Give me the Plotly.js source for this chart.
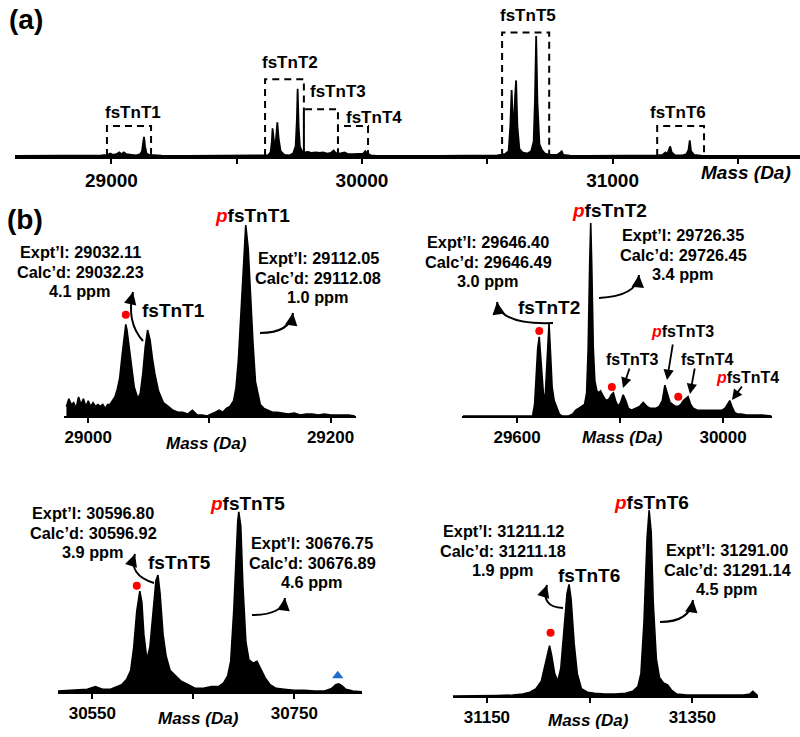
<!DOCTYPE html>
<html><head><meta charset="utf-8">
<script src="https://cdn.plot.ly/plotly-3.0.1.min.js"></script>
<style>html,body{margin:0;padding:0;background:#fff}#c{width:800px;height:737px}</style>
</head><body><div id="c"></div>
<script>
// ---------- data (mass in Da, relative intensity in %) ----------
// (a) full spectrum
const aMass = [28615,28900,28960,28985,28995,29005,29020,29031,29040,29049,
  29060,29080,29100,29115,29122,29127,29130,29134,29140,29150,
  29170,29200,29300,29600,29625,29635,29640,29643,29647,29652,
  29657,29662,29667,29675,29690,29710,29725,29735,29740,29743,
  29747,29752,29760,29770,29785,29800,29815,29830,29845,29860,
  29875,29887,29895,29910,29930,29945,29965,29985,30005,30013,
  30022,30035,30060,30300,30500,30540,30570,30585,30592,30597,
  30602,30607,30611,30615,30620,30628,30640,30660,30675,30685,
  30690,30695,30700,30708,30718,30730,30750,30780,30792,30797,
  30803,30830,30900,31100,31180,31200,31211,31218,31225,31230,
  31236,31250,31280,31295,31303,31308,31313,31325,31360,31500,31748];
const aInt = [0,0,0.5,1,2,1,1.5,3,1.5,3,
  1.5,1,0.5,1.5,4,12,16,8,2,1,
  0.5,0.3,0,0,0.5,3,12,23,12,6,
  15,28,15,4,1,0.5,2,8,30,56,
  25,8,4,3,3.5,2.5,3,2.5,3,2,
  2.5,4.5,2.5,2,3,1.5,1.5,2,2,4,
  2,0.5,0,0,0,0.5,1.5,4,25,55,
  30,30,50,63,25,6,3,2,4,12,
  45,100,45,10,5,2,1,1,3,4,
  1,0.3,0,0,0.5,1,3,1.5,5,8,
  3,0.5,0.5,1.5,5,13,4,1,0,0,0];

// (b) fsTnT1 region
const b1Mass = [28982,28984,28986,28988,28990,28992,28994,28996,28998,29000,
  29002,29004,29006,29008,29010,29012,29014,29016,29018,29020,
  29022,29024,29026,29028,29030,29031,29032,29034,29036,29038,
  29041,29043,29045,29047,29049,29051,29053,29055,29058,29062,
  29066,29070,29074,29078,29082,29086,29090,29094,29098,29102,
  29105,29108,29111,29114,29117,29120,29122,29124,29126,29128,
  29130,29132,29134,29136,29138,29140,29142,29145,29148,29152,
  29156,29160,29165,29170,29175,29180,29185,29190,29195,29200,
  29205,29210,29215,29220];
const b1Int = [5,9,6,7,4,10,6,9,5,8,
  5,7,5,6,5,6,4,6,6,8,
  10,14,20,32,44,48,45,34,24,15,
  9,12,22,36,45,40,30,22,13,7,
  5,3,2,2,1,3,0.5,0.5,0,1,
  2,3,2,4,5,8,15,30,55,80,
  100,88,62,38,18,12,6,4,3,2,
  2,1.5,1,1.5,0.5,1,1,0.5,1,0.5,
  0.5,0.5,0.5,0];

// (b) fsTnT2-4 region
const b2Mass = [29495,29630,29634,29637,29640,29643,29646,29649,29652,29655,
  29658,29662,29665,29668,29672,29677,29682,29687,29700,29708,
  29714,29720,29726,29731,29735,29738,29741,29743,29745,29748,
  29751,29755,29759,29762,29766,29770,29774,29779,29783,29787,
  29791,29796,29801,29806,29811,29816,29822,29830,29838,29845,
  29852,29858,29864,29870,29876,29882,29887,29892,29897,29902,
  29908,29913,29918,29923,29928,29932,29937,29942,29950,29960,
  29970,29980,29990,29998,30004,30009,30013,30017,30022,30028,
  30035,30045,30060,30075,30094];
const b2Int = [0,0,6,20,35,41,30,15,8,12,
  30,48,32,15,8,4,1,0,0,1,
  3,4,5,6,12,35,80,100,78,35,
  18,13,12,13,11,9,8,9,11,12,
  8,5,7,11,8,4,3,4,5,7,
  5,4,4,4,5,8,16,11,7,6,
  5,5,6,8,9,10,6,4,3,3,
  3,3,3,3,4,6,8,5,2,1,
  1,0.5,0.5,0.5,0];

// (b) fsTnT5 region
const b3Mass = [30516,30530,30545,30553,30560,30568,30574,30579,30584,30588,
  30591,30594,30597,30599,30601,30604,30607,30610,30613,30615,
  30617,30620,30623,30627,30632,30638,30645,30652,30660,30668,
  30675,30680,30684,30687,30690,30692,30694,30695,30697,30699,
  30702,30705,30709,30713,30717,30721,30726,30732,30740,30750,
  30760,30770,30780,30787,30791,30794,30797,30801,30808,30818];
const b3Int = [0.5,1,1.5,3,1.5,1.5,3,4,7,12,
  25,45,56,50,32,18,25,45,62,65,
  55,32,20,12,9,6,4,2,2,3,
  3,5,9,17,45,75,95,100,92,60,
  28,18,16,17,12,8,4,2,1.5,1,
  1,0.5,0.5,2,4,4.5,3.5,1.5,0.5,0];

// (b) fsTnT6 region
const b4Mass = [31117,31140,31160,31175,31185,31192,31198,31203,31206,31209,
  31211,31213,31216,31219,31222,31225,31228,31230,31232,31235,
  31238,31242,31248,31255,31265,31275,31285,31292,31297,31300,
  31303,31306,31308,31310,31312,31315,31318,31322,31326,31330,
  31335,31345,31360,31375,31390,31400,31406,31409,31412,31414];
const b4Int = [0,0,0.3,0.5,1,2,4,8,15,23,
  27,22,12,8,15,35,55,60,52,28,
  12,4,2,1.5,1,1,1.5,2.5,5,12,
  40,85,100,88,50,20,10,7,6,3,
  1,0.5,0.5,0.3,0.3,0.5,1,2.5,1,0];

// marker positions (mass, intensity %)
const redDotPanels = ['b1','b2','b2','b2','b3','b4'];
const redDotMass = [29031, 29643, 29784, 29913, 30594, 31212];
const redDotInt  = [53, 44, 15, 10, 59, 34];
const triMass = [30793];
const triInt  = [9];

// tick labels
const aTicks = [29000,29500,30000,30500,31000,31500];
const aTickText = ['29000','','30000','','31000',''];
const b1Ticks = [29000,29100,29200]; const b1TickText = ['29000','','29200'];
const b2Ticks = [29600,29800,30000]; const b2TickText = ['29600','','30000'];
const b3Ticks = [30550,30650,30750]; const b3TickText = ['30550','','30750'];
const b4Ticks = [31150,31250,31350]; const b4TickText = ['31150','','31350'];

// dashed boxes in (a): label, mass from, mass to, top intensity
const boxLabels = ['fsTnT1','fsTnT2','fsTnT3','fsTnT4','fsTnT5','fsTnT6'];
const boxFrom = [28982, 29613, 29768, 29904, 30559, 31178];
const boxTo   = [29158, 29768, 29904, 30024, 30747, 31365];
const boxTop  = [25, 64, 39, 25, 103, 25];

// mass-accuracy call-outs
const expt = ['29032.11','29112.05','29646.40','29726.35','30596.80','30676.75','31211.12','31291.00'];
const calc = ['29032.23','29112.08','29646.49','29726.45','30596.92','30676.89','31211.18','31291.14'];
const ppm  = ['4.1','1.0','3.0','3.4','3.9','4.6','1.9','4.5'];

// ---------- drawing ----------
const W = 800, H = 737;
const FONT = 'Liberation Sans, Arial, sans-serif';
const px = x => x / W, py = y => 1 - y / H;

function xAxis(d0, d1, range, tv, tt, lw, fs, anchor) {
  return {domain:[px(d0), px(d1)], range:range, anchor:anchor,
    tickmode:'array', tickvals:tv, ticktext:tt, ticks:'outside', ticklen:5,
    tickwidth:2, tickcolor:'black', showline:true, linewidth:lw, linecolor:'black',
    showgrid:false, zeroline:false,
    tickfont:{family:FONT, size:fs, color:'black', weight:'bold'}};
}
function yAxis(top, bottom, rmax, anchor) {
  return {domain:[py(bottom), py(top)], range:[0, rmax], visible:false, anchor:anchor};
}

const spec = (x, y, xa, ya, w) => ({type:'scatter', mode:'lines', x:x, y:y, xaxis:xa, yaxis:ya,
  line:{color:'black', width:w}, fill:'tozeroy', fillcolor:'black', hoverinfo:'skip'});

const axMap = {b1:['x2','y2'], b2:['x3','y3'], b3:['x4','y4'], b4:['x5','y5']};
const traces = [
  spec(aMass, aInt, 'x', 'y', 1.8),
  spec(b1Mass, b1Int, 'x2', 'y2', 1.6),
  spec(b2Mass, b2Int, 'x3', 'y3', 1.6),
  spec(b3Mass, b3Int, 'x4', 'y4', 1.6),
  spec(b4Mass, b4Int, 'x5', 'y5', 1.6)
];
redDotPanels.forEach((p, i) => {
  traces.push({type:'scatter', mode:'markers', x:[redDotMass[i]], y:[redDotInt[i]],
    xaxis:axMap[p][0], yaxis:axMap[p][1], marker:{color:'#ff0000', size:8}, hoverinfo:'skip'});
});
traces.push({type:'scatter', mode:'markers', x:triMass, y:triInt, xaxis:'x4', yaxis:'y4',
  marker:{color:'#1f6fc6', size:10, symbol:'triangle-up'}, hoverinfo:'skip'});

// text annotations (pixel centres)
const P = '<span style="color:#ff0000"><i>p</i></span>';
const texts = [
  ['(a)', 26, 20, 28], ['(b)', 25, 220, 28],
  ['<i>Mass (Da)</i>', 746, 173, 19],
  ['fsTnT1', 133, 113, 17], ['fsTnT2', 290, 62, 17], ['fsTnT3', 338, 92, 17],
  ['fsTnT4', 374, 117, 17], ['fsTnT5', 528, 15, 17], ['fsTnT6', 678, 113, 17],
  [P+'fsTnT1', 253, 215, 19], ['fsTnT1', 173, 310, 19], ['<i>Mass (Da)</i>', 207, 443, 17],
  [P+'fsTnT2', 609, 210, 19], ['fsTnT2', 549, 307, 19],
  ['fsTnT3', 632, 359, 16], [P+'fsTnT3', 682, 332, 16], ['fsTnT4', 707, 359, 16], [P+'fsTnT4', 747, 377, 16],
  ['<i>Mass (Da)</i>', 622, 437, 17],
  [P+'fsTnT5', 247, 503, 19], ['fsTnT5', 179, 562, 19], ['<i>Mass (Da)</i>', 198, 718, 17],
  [P+'fsTnT6', 651, 502, 19], ['fsTnT6', 589, 575, 19], ['<i>Mass (Da)</i>', 588, 720, 17]
];
// call-out block centres (x, y of first line)
const callX = [80, 318, 488, 683, 93, 312, 503, 727];
const callY = [252, 258, 242, 235, 513, 543, 531, 550];
const LS = 19.5, E = 16.3;
expt.forEach((v, i) => {
  texts.push(['Expt’l: ' + v, callX[i], callY[i], E]);
  texts.push(['Calc’d: ' + calc[i], callX[i], callY[i] + LS, E]);
  texts.push([ppm[i] + ' ppm', callX[i], callY[i] + 2 * LS, E]);
});
const annotations = texts.map(t => ({text:t[0], x:px(t[1]), y:py(t[2]), xref:'paper', yref:'paper',
  xanchor:'center', yanchor:'middle', showarrow:false,
  font:{family:FONT, size:t[3], color:'black', weight:'bold'}}));

// curved arrows [x0,y0, cx,cy, x1,y1] in pixels (head at x1,y1)
const curves = [
  [143,341, 126,322, 133,292], [260,333, 290,333, 293,313],
  [553,323, 500,325, 497,302], [599,298, 637,296, 639,275],
  [154,583, 128,575, 135,554], [252,615, 283,615, 285,598],
  [563,608, 540,607, 547,585], [660,622, 690,622, 693,600]
];
// straight arrows [tailx, taily, headx, heady]
const straight = [[630,367, 623,388], [673,343, 667,380], [695,367, 690,394], [743,385, 732,400]];

const shapes = [];
curves.forEach(c => {
  shapes.push({type:'path', xref:'paper', yref:'paper', line:{color:'black', width:2},
    path:`M ${px(c[0])},${py(c[1])} Q ${px(c[2])},${py(c[3])} ${px(c[4])},${py(c[5])}`});
  const dx = c[2]-c[4], dy = c[3]-c[5], L = Math.hypot(dx, dy);
  annotations.push({text:'', x:px(c[4]), y:py(c[5]), xref:'paper', yref:'paper',
    ax:dx/L*7, ay:dy/L*7, showarrow:true, arrowhead:2, arrowsize:1.25, arrowwidth:2, arrowcolor:'black'});
});
straight.forEach(s => {
  annotations.push({text:'', x:px(s[2]), y:py(s[3]), xref:'paper', yref:'paper',
    ax:s[0]-s[2], ay:s[1]-s[3], showarrow:true, arrowhead:2, arrowsize:1.15, arrowwidth:1.8, arrowcolor:'black'});
});
boxLabels.forEach((b, i) => {
  shapes.push({type:'path', xref:'x', yref:'y', line:{color:'black', width:2, dash:'7px,5px'},
    path:`M ${boxFrom[i]},0 L ${boxFrom[i]},${boxTop[i]} L ${boxTo[i]},${boxTop[i]} L ${boxTo[i]},0`});
});

const layout = {
  width:W, height:H, margin:{l:0, r:0, t:0, b:0}, showlegend:false,
  paper_bgcolor:'white', plot_bgcolor:'rgba(0,0,0,0)',
  xaxis:  xAxis(15, 800, [28615, 31748], aTicks, aTickText, 3, 19, 'y'),
  yaxis:  yAxis(16, 156, 116.7, 'x'),
  xaxis2: xAxis(64, 356, [28980, 29221], b1Ticks, b1TickText, 2, 17, 'y2'),
  yaxis2: yAxis(200, 416, 113.1, 'x2'),
  xaxis3: xAxis(462, 772, [29493, 30095], b2Ticks, b2TickText, 2, 17, 'y3'),
  yaxis3: yAxis(200, 416, 111.9, 'x3'),
  xaxis4: xAxis(58, 362, [30516, 30817], b3Ticks, b3TickText, 2, 17, 'y4'),
  yaxis4: yAxis(490, 692, 112.2, 'x4'),
  xaxis5: xAxis(453, 758, [31117, 31414], b4Ticks, b4TickText, 2, 17, 'y5'),
  yaxis5: yAxis(490, 696, 110.75, 'x5'),
  annotations: annotations, shapes: shapes
};
Plotly.newPlot('c', traces, layout, {staticPlot:true, displayModeBar:false});
</script></body></html>
